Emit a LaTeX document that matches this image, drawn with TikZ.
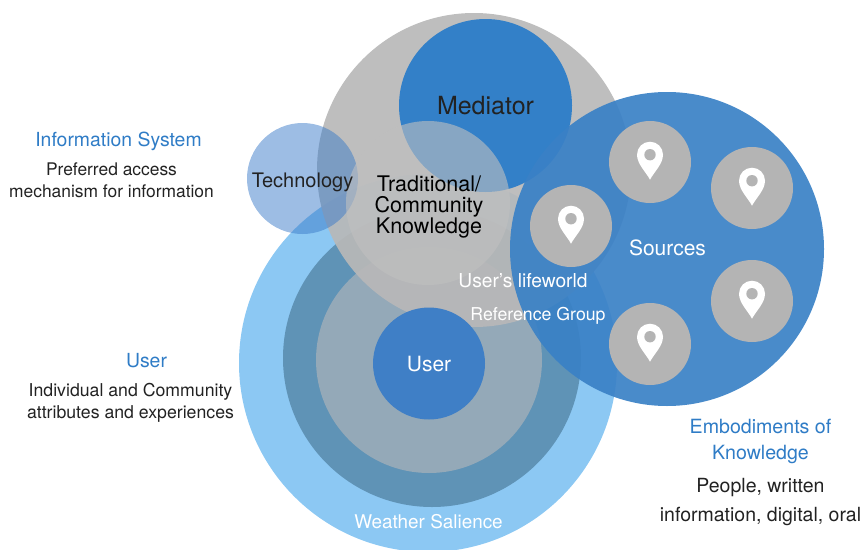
\documentclass[tikz,border=0pt]{standalone}
\usepackage{fontspec}
\setmainfont{TeX Gyre Heros}
\definecolor{salience}{HTML}{8CC8F3}
\definecolor{lifeworld}{HTML}{5F93B6}
\definecolor{refgroup}{HTML}{94A9B8}
\definecolor{userblue}{HTML}{3F7FC6}
\definecolor{bigblue}{HTML}{3380C8}
\definecolor{srcblue}{HTML}{3A81C6}
\definecolor{techblue}{HTML}{3B7BC9}
\definecolor{headblue}{HTML}{2F7CC6}
\definecolor{softgrey}{HTML}{B8B8B8}
\definecolor{tradgrey}{HTML}{C0C0C0}
\definecolor{srcgrey}{HTML}{B4B4B4}
\definecolor{bodytext}{HTML}{222222}
\tikzset{disc/.style={circle,inner sep=0pt,draw=none,minimum size=#1},
  heading/.style={text=headblue,font=\fontsize{19.4}{25}\selectfont,align=center},
  bodylabel/.style={text=bodytext,font=\fontsize{17.4}{22}\selectfont,align=center},
  onblue/.style={text=white,inner sep=0pt}}

\begin{document}
\begin{tikzpicture}[x=1pt,y=-1pt]
   \useasboundingbox (0,0) rectangle (862,549);
   % user side
   \node[disc=378pt,fill=salience] (salience) at (428,363) {};
   \node[disc=298pt,fill=lifeworld] (lifeworld) at (432,358) {};
   \node[disc=226pt,fill=refgroup] (refgroup) at (429,360) {};
   % mediator side
   \node[disc=314pt,fill=softgrey,fill opacity=0.92] (grey) at (474,170) {};
   \node[disc=111pt,fill=techblue,fill opacity=0.5] (tech) at (302.5,178.5) {};
   \node[disc=112pt,fill=userblue] (user) at (429,363.5) {};
   \node[disc=173pt,fill=bigblue] (mediator) at (485.5,105.5) {};
   \node[disc=164pt,fill=tradgrey,fill opacity=0.6] (traditional) at (428,203) {};
   % sources
   \node[disc=314pt,fill=srcblue,fill opacity=0.92] (sources) at (667,249) {};
   \foreach \i/\x/\y in {1/650/162,2/752/188,3/571/226,4/752/301,5/650/344} {
     \node[disc=82pt,fill=srcgrey] (src\i) at (\x,\y) {};
     \fill[white] (\x,\y+17.7) .. controls (\x-4,\y+10) and (\x-13,\y+2) .. (\x-13,\y-7.3)
        arc[start angle=180,end angle=360,radius=13]
        .. controls (\x+13,\y+2) and (\x+4,\y+10) .. (\x,\y+17.7) -- cycle;
     \fill[srcgrey] (\x,\y-7.3) circle(5.7);
   }
   % texts in the circles
   \node[text=bodytext,font=\fontsize{25}{25}\selectfont,inner sep=0pt] (mediatortext) at (485.5,106) {Mediator};
   \node[text=bodytext,font=\fontsize{20}{20}\selectfont,inner sep=0pt] (techtext) at (302.5,182) {Technology};
   \node[text=black,font=\fontsize{21.5}{21}\selectfont,align=center,inner sep=0pt] (tradtext) at (429,207.5) {Traditional/\\Community\\Knowledge};
   \node[onblue,font=\fontsize{21}{21}\selectfont] (srctext) at (667.5,248) {Sources};
   \node[onblue,font=\fontsize{19.2}{20}\selectfont] (worldtext) at (523,281) {User's lifeworld};
   \node[onblue,font=\fontsize{17.7}{20}\selectfont] (reftext) at (538,316) {Reference Group};
   \node[onblue,font=\fontsize{21}{21}\selectfont] (usertext) at (429,364) {User};
   \node[onblue,font=\fontsize{18.9}{20}\selectfont] (saltext) at (428.5,522) {Weather Salience};
   % side texts
   \node[heading] (infohead) at (118.5,141) {Information System};
   \node[bodylabel] (infobody) at (111.5,180) {Preferred access\\mechanism for information};
   \node[heading] (userhead) at (146.5,361) {User};
   \node[bodylabel,font=\fontsize{17.7}{22}\selectfont] (userbody) at (130.5,403) {Individual and Community\\attributes and experiences};
   \node[heading,font=\fontsize{19.6}{26}\selectfont] (embodyhead) at (760.5,441) {Embodiments of\\Knowledge};
   \node[bodylabel,font=\fontsize{19.5}{29}\selectfont] (embodybody) at (760.5,502.5) {People, written\\information, digital, oral};
\end{tikzpicture}
\end{document}
